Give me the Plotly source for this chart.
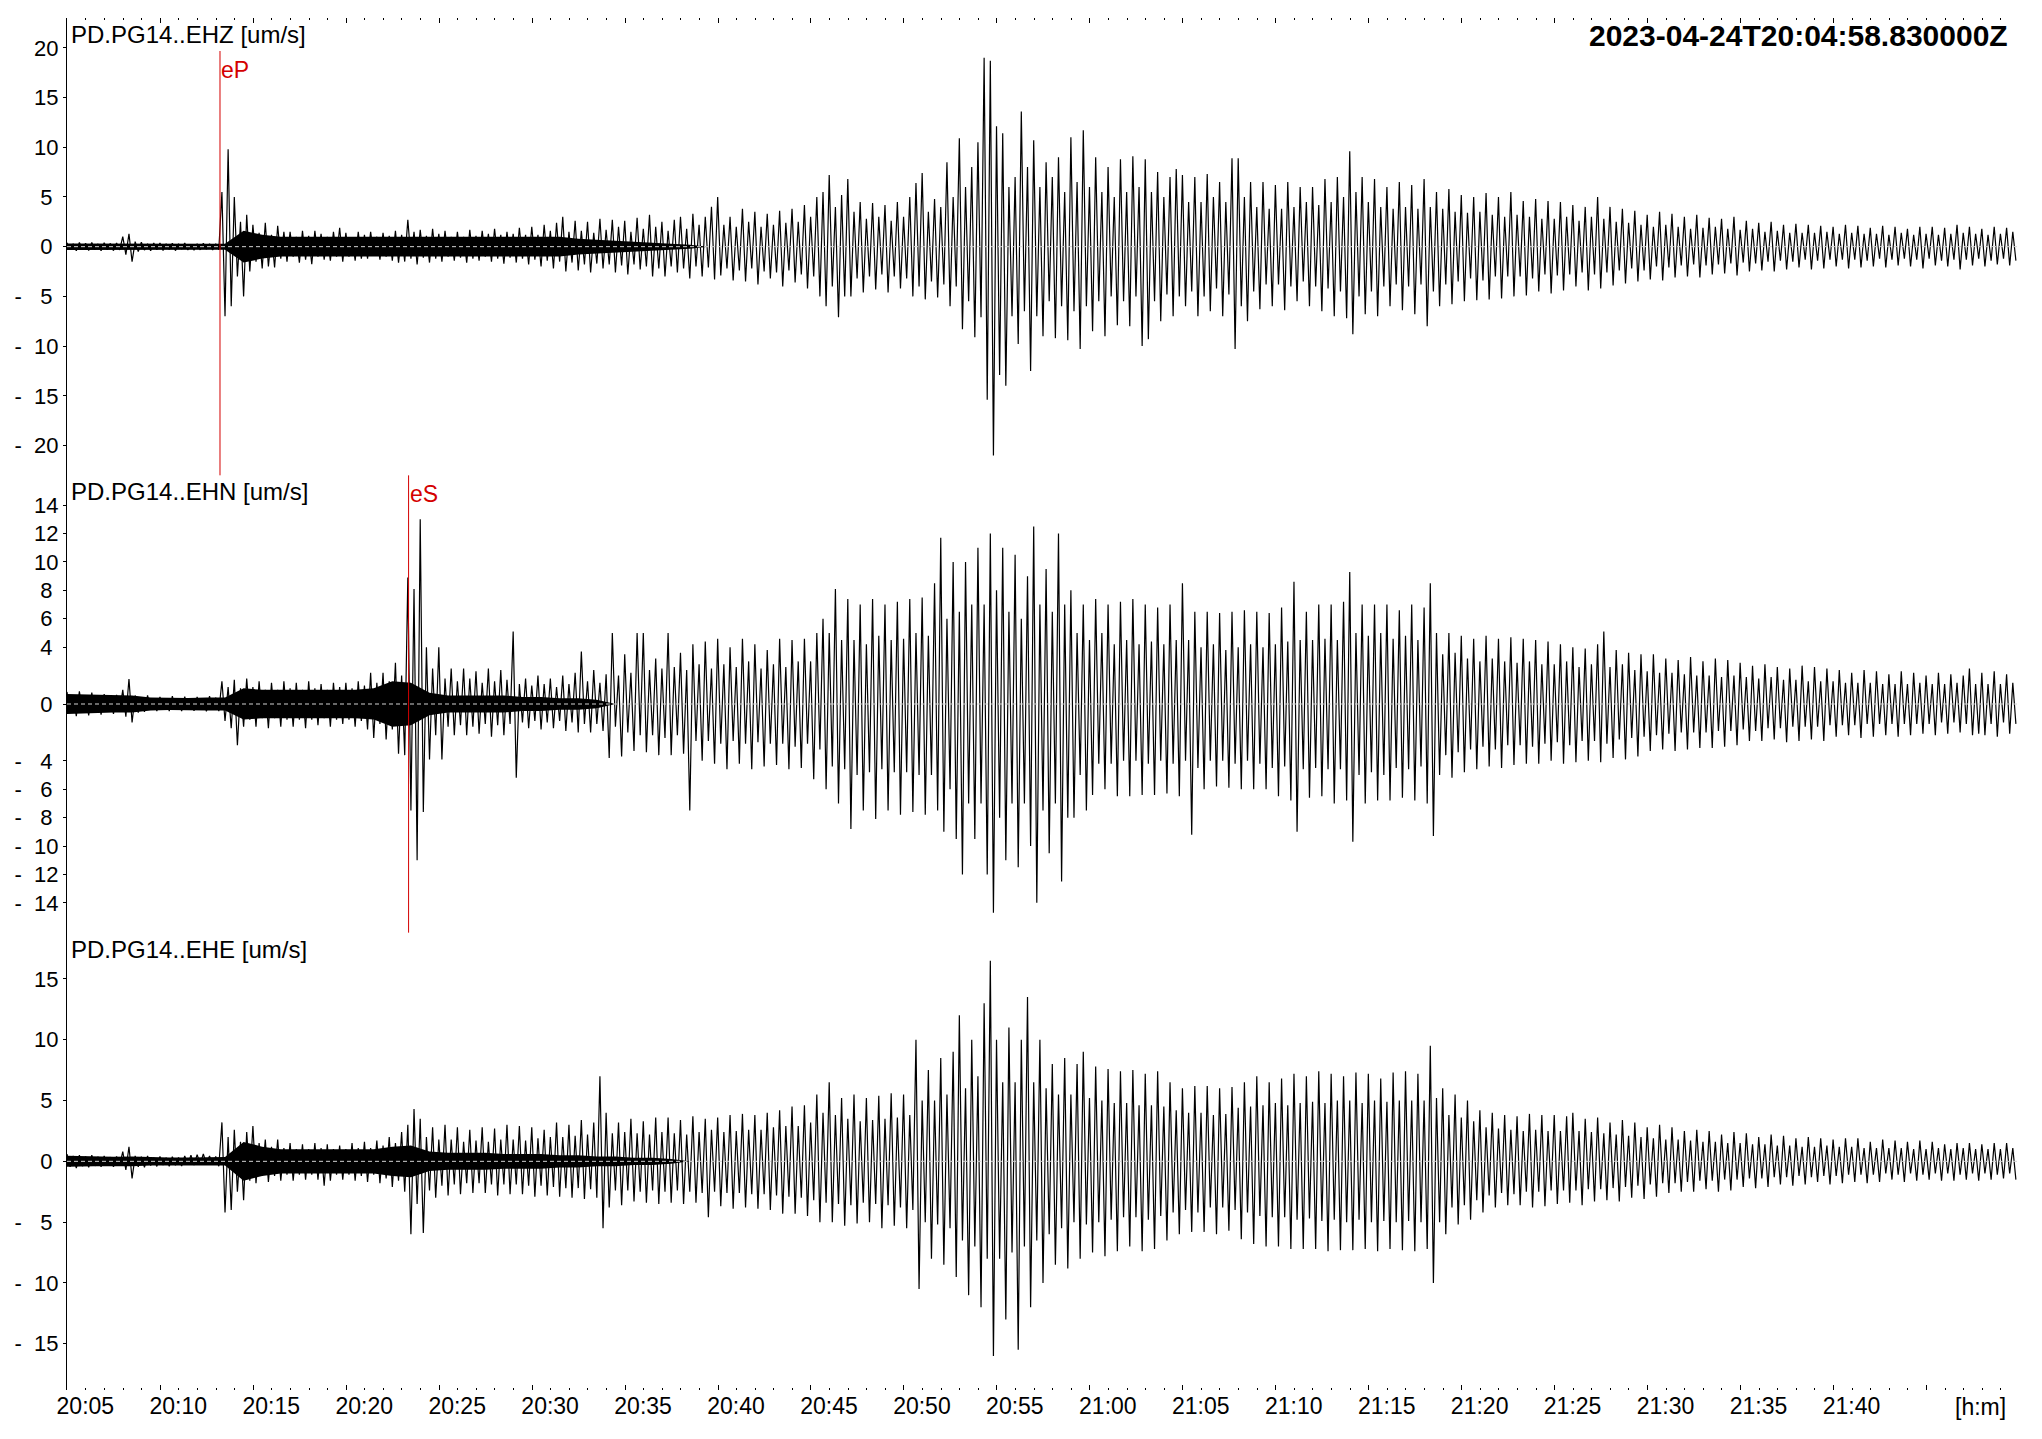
import plotly.graph_objects as go
from plotly.subplots import make_subplots
from datetime import datetime, timedelta

# ---------------- data ----------------
START = datetime(2023, 4, 24, 20, 4, 58, 830000)
DURATION_S = 6300          # shown time window
BIN_S = 20                 # one upper + one lower peak per bin
BAND_S = 60                # resolution of the dense-noise core band
TITLE_TIME = "2023-04-24T20:04:58.830000Z"
CHANNELS = ["PD.PG14..EHZ [um/s]", "PD.PG14..EHN [um/s]", "PD.PG14..EHE [um/s]"]

EHZ_UP = [
    .40, .30, .42, .35, .42, .28, .40, .33, .38, 1.0, 1.3, .50, .45, .30, .38,
    .36, .28, .35, .30, .36, .25, .28, .34, .30, .30, 5.5, 9.8, 5.0, 2.5, 3.2,
    2.2, 1.4, 2.4, 1.2, 2.1, 1.5, 1.5, 1.0, 1.6, 1.1, 1.6, 1.3, 1.0, 1.5, 1.9,
    1.4, 0.9, 1.5, 1.2, 1.5, 1.0, 1.4, 1.1, 1.6, 1.2, 2.7, 1.5, 1.7, 1.1, 1.8,
    1.3, 1.6, 1.0, 1.5, 1.0, 1.7, 1.1, 1.6, 1.3, 1.8, 1.2, 1.5, 1.3, 1.9, 1.2,
    2.0, 1.2, 2.2, 1.6, 2.4, 3.0, 1.5, 2.6, 1.6, 2.5, 1.4, 2.8, 1.7, 2.7, 2.0,
    2.6, 1.5, 2.9, 1.8, 3.2, 2.0, 2.5, 1.6, 2.7, 3.0, 1.8, 3.3, 2.2, 3.0, 4.0,
    5.0, 2.2, 3.0, 2.0, 3.8, 2.5, 3.5, 2.0, 3.3, 2.2, 3.6, 2.4, 3.8, 2.5, 4.2,
    3.0, 5.0, 5.5, 7.2, 4.0, 5.2, 6.8, 3.5, 4.5, 2.8, 4.4, 3.0, 4.2, 2.6, 4.5,
    3.0, 5.0, 6.4, 7.4, 3.5, 4.8, 4.0, 8.5, 5.0, 10.9, 6.0, 8.0, 10.5, 19.0, 18.7,
    12.1, 11.4, 6.0, 7.0, 13.6, 8.0, 10.7, 6.0, 8.5, 7.0, 9.0, 5.5, 11.0, 6.5, 11.7,
    6.0, 9.0, 5.5, 8.0, 5.0, 8.8, 5.5, 9.1, 6.0, 8.8, 5.5, 7.5, 5.0, 7.0, 7.8,
    7.2, 4.5, 7.0, 4.5, 7.3, 5.0, 6.5, 4.5, 8.9, 8.9, 5.0, 6.5, 4.0, 6.5, 3.8,
    6.2, 3.8, 6.5, 4.0, 6.0, 4.5, 6.0, 4.2, 6.8, 4.5, 7.0, 5.0, 9.6, 5.5, 7.0,
    4.5, 6.8, 4.0, 6.0, 3.8, 6.5, 4.0, 6.2, 3.8, 6.8, 4.0, 5.5, 3.8, 5.8, 3.5,
    5.2, 3.4, 5.0, 3.5, 5.4, 3.2, 5.0, 3.0, 5.5, 3.2, 4.6, 3.0, 4.8, 2.8, 4.6,
    2.8, 4.5, 3.0, 4.2, 2.6, 4.0, 3.0, 5.0, 2.8, 4.0, 2.5, 3.8, 2.4, 3.6, 2.2,
    3.2, 2.0, 3.5, 2.2, 3.3, 2.0, 3.0, 1.8, 3.2, 1.9, 2.9, 2.0, 2.8, 1.8, 3.0,
    1.7, 2.6, 1.8, 2.4, 1.5, 2.5, 1.6, 2.2, 1.4, 2.3, 1.4, 2.2, 1.4, 2.1, 1.5,
    2.0, 1.3, 2.2, 1.4, 2.1, 1.3, 1.9, 1.3, 2.1, 1.2, 2.0, 1.4, 1.8, 1.2, 2.0,
    1.3, 2.0, 1.2, 1.9, 1.3, 2.2, 1.4, 2.0, 1.3, 1.8, 1.2, 2.0, 1.3, 1.9, 1.5,
]
EHZ_LO = [
    -.32, -.42, -.30, -.40, -.28, -.42, -.30, -.40, -.33, -.80, -1.5, -.50, -.35, -.42, -.30,
    -.38, -.28, -.40, -.26, -.33, -.36, -.32, -.25, -.34, -.30, -7.0, -6.0, -3.0, -5.0, -2.5,
    -1.5, -2.2, -2.0, -2.1, -1.2, -1.5, -1.0, -1.6, -1.3, -1.75, -1.0, -1.3, -1.4, -1.0, -1.5,
    -1.0, -1.4, -1.2, -1.2, -0.9, -1.3, -1.0, -1.4, -1.6, -1.5, -1.2, -1.8, -1.1, -1.6, -1.2,
    -1.5, -1.0, -1.4, -1.1, -1.6, -1.2, -1.4, -1.0, -1.5, -1.2, -1.7, -1.1, -1.6, -1.2, -1.8,
    -1.3, -2.0, -1.4, -2.2, -1.5, -2.5, -1.6, -2.4, -1.8, -2.6, -1.7, -2.2, -1.8, -2.6, -1.9,
    -2.8, -1.8, -2.3, -2.0, -3.0, -2.2, -3.0, -2.0, -2.6, -2.2, -3.2, -2.0, -3.0, -2.1, -3.3,
    -2.9, -2.2, -3.4, -2.4, -3.5, -2.2, -3.8, -2.5, -3.2, -2.6, -4.0, -2.4, -3.6, -2.8, -4.2,
    -3.0, -5.0, -6.0, -4.0, -7.1, -5.0, -5.0, -3.2, -4.6, -3.0, -4.3, -2.8, -4.6, -3.0, -4.2,
    -3.2, -5.0, -4.0, -5.3, -3.5, -5.1, -3.8, -6.0, -4.0, -8.3, -5.5, -9.1, -7.1, -15.4, -21.0,
    -12.9, -14.0, -7.0, -9.8, -6.5, -12.5, -7.0, -9.0, -5.5, -9.2, -6.0, -9.4, -6.5, -10.3, -6.0,
    -8.5, -5.5, -9.0, -5.0, -7.9, -5.5, -8.0, -5.0, -10.0, -9.3, -5.5, -7.5, -4.8, -7.0, -5.0,
    -6.0, -4.5, -7.0, -5.0, -6.5, -4.2, -7.0, -4.8, -10.3, -6.0, -7.5, -4.5, -6.3, -3.8, -6.0,
    -3.8, -6.4, -4.0, -5.5, -3.5, -6.0, -4.0, -6.5, -4.2, -7.0, -4.5, -7.2, -8.8, -5.0, -6.8,
    -4.5, -7.0, -4.0, -6.0, -3.8, -6.4, -4.0, -6.8, -3.8, -8.0, -4.5, -6.0, -3.8, -5.8, -3.5,
    -5.5, -3.2, -5.4, -3.4, -5.3, -3.0, -5.2, -3.0, -5.0, -3.0, -4.9, -3.2, -4.5, -2.8, -4.7,
    -2.9, -4.4, -2.8, -4.0, -2.6, -4.4, -2.8, -4.2, -2.6, -3.9, -2.4, -3.7, -2.2, -3.5, -2.4,
    -3.3, -2.0, -3.4, -2.1, -3.1, -1.9, -3.0, -1.8, -3.1, -1.9, -2.8, -1.8, -2.7, -1.7, -2.9,
    -1.6, -2.5, -1.7, -2.4, -1.5, -2.5, -1.4, -2.3, -1.5, -2.1, -1.3, -2.3, -1.4, -2.2, -1.3,
    -2.0, -1.3, -2.2, -1.3, -2.1, -1.4, -2.0, -1.2, -2.1, -1.3, -1.9, -1.2, -2.0, -1.3, -2.2,
    -1.2, -1.9, -1.4, -2.0, -1.3, -2.3, -1.3, -1.9, -1.2, -2.0, -1.4, -1.8, -1.2, -1.9, -1.4,
]
EHN_UP = [
    .85, .60, .90, .62, .80, .55, .70, .50, .65, 1.0, 1.76, .60, .45, .60, .40,
    .50, .38, .55, .40, .52, .38, .50, .40, .55, .45, 1.6, 1.2, 1.7, 1.1, 1.8,
    1.2, 1.6, 1.0, 1.5, 1.0, 1.6, 1.1, 1.5, 1.0, 1.6, 1.1, 1.4, 1.0, 1.5, 1.2,
    1.5, 1.1, 1.6, 1.3, 2.2, 1.5, 2.2, 1.6, 2.9, 2.0, 8.9, 8.1, 13.0, 4.0, 2.5,
    4.0, 1.8, 2.5, 1.6, 2.5, 1.8, 2.3, 1.5, 2.5, 1.6, 2.4, 1.7, 5.1, 1.4, 1.8,
    1.3, 2.0, 1.4, 1.8, 1.2, 2.0, 1.4, 2.2, 3.7, 1.6, 2.4, 1.5, 2.1, 5.0, 2.0,
    3.5, 2.2, 5.0, 5.0, 2.4, 3.2, 2.5, 5.0, 2.6, 3.6, 2.4, 4.2, 2.8, 4.4, 2.5,
    4.6, 2.8, 4.0, 2.6, 4.6, 3.0, 4.2, 2.5, 3.8, 2.8, 4.6, 2.6, 4.5, 3.0, 4.6,
    3.0, 5.0, 6.0, 5.0, 8.1, 4.5, 7.4, 4.5, 7.0, 4.2, 7.4, 4.8, 7.0, 4.5, 7.2,
    4.6, 7.4, 5.0, 7.5, 4.8, 8.5, 11.7, 6.0, 10.0, 6.5, 10.0, 7.0, 11.0, 7.0, 12.0,
    8.0, 11.0, 6.5, 10.5, 6.0, 9.0, 12.5, 7.0, 9.5, 6.5, 12.0, 7.0, 8.0, 5.0, 7.0,
    4.5, 7.4, 5.0, 7.0, 4.2, 7.2, 4.5, 7.4, 4.2, 7.0, 4.4, 6.8, 4.2, 7.0, 4.5,
    8.5, 4.5, 6.5, 4.0, 6.5, 4.2, 6.4, 3.8, 6.5, 4.0, 6.6, 4.2, 6.5, 4.0, 6.4,
    4.2, 6.8, 4.4, 8.6, 4.5, 6.5, 4.5, 7.0, 4.6, 7.0, 4.5, 7.2, 9.3, 5.0, 7.0,
    4.8, 7.0, 5.0, 7.0, 4.6, 6.6, 4.8, 7.0, 4.5, 6.8, 8.5, 5.0, 3.5, 5.0, 3.6,
    4.8, 3.2, 4.6, 3.0, 4.8, 3.2, 4.6, 3.0, 4.7, 2.9, 4.6, 3.0, 4.5, 2.8, 4.4,
    2.8, 4.2, 3.0, 4.0, 2.6, 3.9, 2.8, 4.2, 5.1, 2.6, 3.8, 2.8, 3.6, 2.4, 3.5,
    2.3, 3.5, 2.2, 3.2, 2.2, 3.1, 2.1, 3.3, 2.0, 3.0, 2.0, 3.2, 1.9, 3.1, 2.0,
    2.9, 1.9, 2.7, 1.8, 2.8, 1.9, 2.6, 1.7, 2.5, 1.7, 2.7, 1.6, 2.6, 1.6, 2.5,
    1.6, 2.4, 1.5, 2.2, 1.5, 2.4, 1.5, 2.3, 1.4, 2.1, 1.4, 2.3, 1.4, 2.2, 1.5,
    2.0, 1.4, 2.2, 1.4, 2.1, 1.5, 2.0, 2.5, 1.4, 2.2, 1.4, 2.3, 1.4, 2.1, 1.5,
]
EHN_LO = [
    -.60, -.85, -.62, -.80, -.55, -.75, -.50, -.70, -.48, -.90, -1.3, -.60, -.55, -.40, -.50,
    -.38, -.50, -.40, -.50, -.36, -.48, -.38, -.52, -.40, -.50, -1.2, -1.7, -2.9, -1.6, -1.1,
    -1.6, -1.0, -1.7, -1.0, -1.6, -1.1, -1.6, -1.1, -1.7, -1.1, -1.5, -1.0, -1.6, -1.1, -1.4,
    -1.1, -1.6, -1.2, -1.8, -2.4, -1.4, -2.5, -1.8, -3.5, -3.6, -7.5, -11.0, -7.6, -3.9, -2.2,
    -3.9, -1.6, -2.2, -1.5, -2.2, -1.6, -2.1, -1.4, -2.3, -1.5, -2.2, -1.4, -5.2, -1.3, -1.7,
    -1.2, -1.8, -1.3, -1.7, -1.2, -1.9, -1.3, -2.0, -1.4, -2.0, -1.4, -1.9, -3.8, -1.6, -3.7,
    -2.0, -3.3, -2.2, -3.4, -2.2, -3.6, -2.4, -3.6, -2.2, -3.5, -7.5, -2.6, -4.0, -2.6, -4.2,
    -2.8, -4.6, -2.6, -4.2, -2.8, -4.6, -2.7, -4.4, -2.8, -4.3, -2.8, -4.6, -3.0, -4.5, -2.8,
    -5.3, -3.2, -6.0, -4.4, -7.0, -4.6, -8.8, -5.0, -7.5, -4.8, -8.1, -4.6, -7.5, -4.8, -7.8,
    -4.8, -7.6, -5.0, -7.8, -5.0, -7.5, -9.0, -6.0, -9.5, -12.0, -7.0, -9.5, -7.0, -12.0, -14.7,
    -8.0, -11.0, -7.0, -11.5, -7.0, -10.0, -14.0, -7.5, -10.5, -7.0, -12.5, -8.0, -8.0, -5.0, -7.5,
    -6.4, -4.2, -6.0, -4.2, -6.5, -4.0, -6.5, -4.0, -6.4, -4.2, -6.4, -4.0, -6.3, -4.2, -6.5,
    -4.0, -9.2, -4.5, -6.0, -4.0, -5.8, -4.0, -5.9, -4.2, -6.0, -4.0, -6.0, -4.2, -6.0, -4.5,
    -6.5, -4.4, -6.8, -9.0, -4.6, -6.6, -4.5, -6.5, -4.6, -7.0, -4.6, -6.8, -9.7, -5.0, -7.0,
    -4.8, -6.8, -5.0, -6.8, -4.5, -6.6, -4.6, -6.8, -4.4, -7.0, -9.3, -5.0, -3.6, -5.2, -3.4,
    -4.8, -3.2, -4.6, -3.0, -4.4, -3.2, -4.5, -2.9, -4.3, -2.9, -4.2, -3.0, -4.2, -2.8, -4.0,
    -2.7, -4.2, -2.9, -4.1, -2.6, -4.0, -2.6, -4.1, -2.8, -3.8, -2.5, -3.9, -2.4, -3.7, -2.3,
    -3.3, -2.2, -3.2, -2.1, -3.3, -2.0, -3.2, -2.0, -3.1, -2.0, -3.1, -1.9, -3.0, -1.9, -2.9,
    -1.8, -2.6, -1.9, -2.6, -1.7, -2.5, -1.7, -2.7, -1.6, -2.6, -1.6, -2.5, -1.6, -2.6, -1.5,
    -2.3, -1.5, -2.2, -1.5, -2.4, -1.4, -2.3, -1.4, -2.2, -1.4, -2.3, -1.4, -2.2, -1.4, -2.1,
    -1.4, -2.2, -1.3, -2.1, -1.3, -2.0, -1.4, -2.2, -2.1, -2.2, -1.4, -2.3, -1.3, -2.1, -1.4,
]
EHE_UP = [
    .60, .45, .50, .40, .50, .38, .45, .35, .40, .80, 1.2, .45, .38, .45, .30,
    .40, .30, .38, .32, .45, .50, .55, .60, .45, .40, 3.2, 2.0, 2.6, 1.6, 2.4,
    2.9, 1.5, 1.8, 1.2, 1.8, 1.1, 1.5, 1.0, 1.4, 1.0, 1.5, 1.1, 1.4, 1.0, 1.3,
    1.0, 1.5, 1.1, 1.6, 1.1, 1.7, 1.3, 2.0, 1.5, 2.4, 3.0, 4.3, 3.5, 2.0, 2.8,
    1.8, 3.0, 1.8, 2.8, 1.6, 2.6, 1.7, 2.8, 1.6, 2.7, 1.8, 3.0, 1.8, 2.9, 1.7,
    2.8, 1.9, 2.6, 2.0, 3.2, 2.0, 3.0, 2.1, 3.4, 2.2, 3.2, 7.0, 4.0, 2.3, 3.2,
    2.4, 3.5, 2.3, 3.3, 2.2, 3.6, 2.4, 3.6, 2.3, 3.4, 2.2, 3.7, 2.4, 3.5, 2.6,
    3.6, 2.4, 3.8, 2.5, 3.9, 2.6, 3.8, 2.6, 4.0, 2.8, 4.2, 2.9, 4.5, 2.9, 4.6,
    3.2, 5.5, 4.0, 6.5, 3.8, 5.2, 3.5, 5.5, 3.3, 5.2, 3.4, 5.4, 3.5, 5.6, 3.6,
    5.5, 3.8, 10.0, 5.0, 7.5, 5.0, 8.5, 5.5, 9.0, 12.0, 6.0, 10.0, 7.0, 13.0, 16.5,
    10.0, 6.5, 11.0, 6.5, 10.0, 13.5, 6.5, 10.0, 6.0, 8.0, 5.5, 8.5, 5.5, 8.0, 9.0,
    5.2, 7.8, 5.0, 7.6, 4.8, 7.4, 4.8, 7.5, 4.6, 7.2, 4.6, 7.4, 4.5, 6.5, 4.2,
    6.0, 4.0, 6.2, 4.0, 6.2, 3.8, 6.0, 3.9, 6.1, 4.4, 6.5, 4.5, 7.0, 4.6, 6.5,
    4.8, 6.8, 4.6, 7.2, 4.8, 7.0, 4.9, 7.4, 4.8, 7.2, 5.0, 7.0, 5.0, 7.3, 4.8,
    7.2, 5.0, 6.8, 4.9, 7.3, 5.0, 7.4, 5.0, 7.2, 5.0, 9.5, 5.2, 6.0, 3.8, 5.5,
    3.6, 5.0, 3.3, 4.2, 2.8, 4.0, 2.7, 3.8, 2.6, 3.7, 2.5, 3.9, 2.6, 3.8, 2.5,
    3.8, 2.5, 3.7, 4.0, 2.5, 3.5, 2.4, 3.6, 2.3, 3.2, 2.2, 3.4, 2.1, 3.2, 2.0,
    2.8, 1.9, 3.0, 1.8, 2.8, 1.8, 2.5, 1.7, 2.6, 1.6, 2.5, 1.6, 2.2, 1.5, 2.4,
    1.5, 2.3, 1.4, 2.0, 1.4, 2.2, 1.3, 2.1, 1.3, 1.9, 1.2, 2.0, 1.2, 1.9, 1.3,
    1.8, 1.2, 1.9, 1.2, 1.9, 1.1, 1.6, 1.1, 1.8, 1.1, 1.7, 1.1, 1.6, 1.0, 1.7,
    1.0, 1.6, 1.1, 1.4, 1.0, 1.5, 1.1, 1.5, 1.0, 1.4, 1.0, 1.5, 1.0, 1.5, 1.1,
]
EHE_LO = [
    -.45, -.55, -.40, -.50, -.38, -.45, -.35, -.45, -.32, -.70, -1.4, -.45, -.50, -.35, -.42,
    -.30, -.40, -.32, -.38, -.28, -.30, -.22, -.20, -.28, -.40, -4.2, -4.0, -2.5, -3.2, -1.6,
    -1.8, -1.2, -1.7, -1.2, -1.6, -1.1, -1.6, -1.1, -1.5, -1.1, -1.5, -2.0, -1.6, -1.1, -1.5,
    -1.1, -1.6, -1.2, -1.7, -1.1, -1.8, -1.4, -2.1, -1.6, -2.5, -6.0, -3.5, -5.9, -2.4, -3.0,
    -2.0, -2.8, -1.9, -2.7, -1.8, -2.6, -1.8, -2.6, -1.9, -2.8, -1.9, -2.7, -1.9, -2.7, -2.0,
    -2.9, -2.0, -2.8, -2.1, -2.9, -2.2, -3.0, -2.2, -3.1, -2.3, -3.0, -5.5, -3.8, -2.4, -3.6,
    -2.4, -3.3, -2.5, -3.4, -2.4, -3.5, -2.5, -3.4, -2.4, -3.5, -2.5, -3.4, -2.6, -4.6, -2.5,
    -3.7, -2.6, -3.9, -2.6, -3.8, -2.7, -3.9, -2.7, -4.0, -2.8, -4.3, -2.9, -4.3, -3.0, -4.5,
    -3.2, -5.0, -3.4, -5.0, -3.5, -5.3, -3.6, -5.1, -3.4, -5.0, -3.5, -5.5, -3.6, -5.3, -3.8,
    -5.5, -4.0, -10.5, -5.0, -8.0, -5.2, -8.5, -5.5, -9.5, -6.5, -11.0, -7.0, -12.0, -8.0, -16.0,
    -8.0, -13.0, -7.5, -15.5, -7.0, -12.0, -6.5, -10.0, -6.0, -8.5, -5.5, -8.8, -5.0, -8.0, -5.2,
    -7.5, -5.0, -7.8, -4.8, -7.4, -4.6, -7.0, -4.6, -7.4, -4.8, -7.2, -4.5, -6.5, -4.2, -6.0,
    -4.0, -5.8, -4.2, -5.8, -3.8, -6.0, -3.8, -5.7, -4.0, -6.4, -4.2, -6.8, -4.5, -7.0, -4.6,
    -7.0, -4.6, -7.2, -4.8, -7.2, -4.7, -7.2, -4.9, -7.4, -4.8, -7.3, -5.0, -7.3, -4.8, -7.2,
    -5.0, -7.4, -4.9, -7.2, -5.0, -7.3, -4.9, -7.4, -5.0, -7.2, -10.0, -5.0, -6.0, -3.8, -5.2,
    -3.6, -4.8, -3.2, -4.2, -2.8, -3.8, -2.6, -3.6, -2.7, -3.6, -2.5, -3.8, -2.5, -3.7, -2.4,
    -3.5, -2.4, -3.4, -2.4, -3.6, -2.3, -3.3, -2.3, -3.2, -2.2, -3.3, -2.1, -3.0, -2.0, -3.1,
    -1.9, -2.9, -1.8, -2.6, -1.8, -2.5, -1.7, -2.5, -1.6, -2.3, -1.6, -2.5, -1.5, -2.4, -1.5,
    -2.1, -1.4, -2.2, -1.4, -2.1, -1.3, -1.9, -1.3, -2.0, -1.2, -1.9, -1.3, -1.7, -1.2, -1.9,
    -1.2, -1.8, -1.1, -1.7, -1.1, -1.8, -1.1, -1.7, -1.0, -1.5, -1.1, -1.7, -1.0, -1.6, -1.1,
    -1.5, -1.0, -1.6, -1.0, -1.6, -1.1, -1.5, -1.0, -1.6, -1.0, -1.5, -1.1, -1.4, -1.0, -1.5,
]
# half-width of the solid black high-frequency noise core, one value per minute
EHZ_BAND = [
    .33, .33, .33, .33, .33, .32, .30, .30, .30, 1.6,
    1.2, 1.0, 1.0, 1.0, 1.0, 1.0, 1.0, 1.0, 1.0, 1.0,
    1.0, 1.0, 1.0, 1.0, 1.0, 1.0, 1.0, .80, .70, .60,
    .50, .40, .30, .20, 0, 0, 0, 0, 0, 0,
    0, 0, 0, 0, 0, 0, 0, 0, 0, 0,
    0, 0, 0, 0, 0, 0, 0, 0, 0, 0,
    0, 0, 0, 0, 0, 0, 0, 0, 0, 0,
    0, 0, 0, 0, 0, 0, 0, 0, 0, 0,
    0, 0, 0, 0, 0, 0, 0, 0, 0, 0,
    0, 0, 0, 0, 0, 0, 0, 0, 0, 0,
    0, 0, 0, 0, 0,
]
EHN_BAND = [
    .70, .65, .60, .60, .45, .42, .42, .45, .45, 1.1,
    1.0, 1.0, 1.0, 1.0, 1.0, 1.0, 1.1, 1.6, 1.5, .80,
    .60, .60, .60, .60, .50, .50, .40, .40, .30, 0,
    0, 0, 0, 0, 0, 0, 0, 0, 0, 0,
    0, 0, 0, 0, 0, 0, 0, 0, 0, 0,
    0, 0, 0, 0, 0, 0, 0, 0, 0, 0,
    0, 0, 0, 0, 0, 0, 0, 0, 0, 0,
    0, 0, 0, 0, 0, 0, 0, 0, 0, 0,
    0, 0, 0, 0, 0, 0, 0, 0, 0, 0,
    0, 0, 0, 0, 0, 0, 0, 0, 0, 0,
    0, 0, 0, 0, 0,
]
EHE_BAND = [
    .45, .40, .38, .40, .35, .32, .32, .35, .35, 1.6,
    1.2, 1.0, 1.0, 1.0, 1.0, 1.0, 1.0, 1.2, 1.3, .80,
    .70, .70, .70, .60, .60, .60, .50, .50, .40, .40,
    .30, .30, .20, 0, 0, 0, 0, 0, 0, 0,
    0, 0, 0, 0, 0, 0, 0, 0, 0, 0,
    0, 0, 0, 0, 0, 0, 0, 0, 0, 0,
    0, 0, 0, 0, 0, 0, 0, 0, 0, 0,
    0, 0, 0, 0, 0, 0, 0, 0, 0, 0,
    0, 0, 0, 0, 0, 0, 0, 0, 0, 0,
    0, 0, 0, 0, 0, 0, 0, 0, 0, 0,
    0, 0, 0, 0, 0,
]

Y_HALF_RANGE = [23.0, 16.1, 18.8]
Y_TICKS = [
    [-20, -15, -10, -5, 0, 5, 10, 15, 20],
    [-14, -12, -10, -8, -6, -4, 0, 4, 6, 8, 10, 12, 14],
    [-15, -10, -5, 0, 5, 10, 15],
]
# phase picks: (label, time, panel row)
PICKS = [
    ("eP", datetime(2023, 4, 24, 20, 13, 12, 600000), 1),
    ("eS", datetime(2023, 4, 24, 20, 23, 21, 300000), 2),
]
X_TICK_FIRST = datetime(2023, 4, 24, 20, 5)
X_TICK_STEP_MIN = 5
X_TICK_COUNT = 22           # 20:05 ... 21:50
X_UNLABELLED = ["21:45", "21:50"]
X_UNIT = "[h:m]"

# ---------------- layout constants (pixels) ----------------
W, H = 2042, 1439
ML, MR, MT, MB = 67, 23, 18, 49
PLOT_W = W - ML - MR
PLOT_H = H - MT - MB


def py(px):
    """pixel row -> paper y"""
    return (H - MB - px) / PLOT_H


def pxx(px):
    """pixel column -> paper x"""
    return (px - ML) / PLOT_W


FONT = "Arial, 'Liberation Sans', sans-serif"
FS, PS = "\u2007", "\u2008"


def ylab(v):
    s = str(abs(v))
    if len(s) == 1:
        s = PS + s + PS
    return ("-" + FS if v < 0 else "") + s


fig = make_subplots(rows=3, cols=1, shared_xaxes=True, vertical_spacing=0)

series = [(EHZ_UP, EHZ_LO, EHZ_BAND), (EHN_UP, EHN_LO, EHN_BAND), (EHE_UP, EHE_LO, EHE_BAND)]
for r, (up, lo, band) in enumerate(series, start=1):
    # dense noise core (filled band), only where the record is solid black
    last = max(k for k, b in enumerate(band) if b > 0) + 2
    bsub = band[:last]
    bt = [START + timedelta(seconds=k * BAND_S + BAND_S / 2) for k in range(len(bsub))]
    bt[0] = START
    fig.add_trace(go.Scatter(x=bt + bt[::-1], y=list(bsub) + [-b for b in bsub[::-1]],
                             mode="lines", fill="toself", fillcolor="black",
                             line=dict(width=0, color="black"),
                             hoverinfo="skip", showlegend=False), row=r, col=1)
    # peak-to-peak trace
    xs, ys = [], []
    n = min(len(up), len(lo))
    for i in range(n):
        t0 = START + timedelta(seconds=i * BIN_S)
        xs.append(t0)
        ys.append(up[i])
        xs.append(t0 + timedelta(seconds=BIN_S / 2))
        ys.append(lo[i])
    fig.add_trace(go.Scatter(x=xs, y=ys, mode="lines",
                             line=dict(color="black", width=1.2),
                             hoverinfo="skip", showlegend=False), row=r, col=1)

x_end = START + timedelta(seconds=DURATION_S)
tickvals = [X_TICK_FIRST + timedelta(minutes=X_TICK_STEP_MIN * k) for k in range(X_TICK_COUNT)]
ticktext = ["" if t.strftime("%H:%M") in X_UNLABELLED else t.strftime("%H:%M") for t in tickvals]

for r in (1, 2, 3):
    fig.update_xaxes(row=r, col=1, range=[START, x_end], showgrid=False, zeroline=False,
                     showline=False, tickmode="array", tickvals=tickvals, ticktext=ticktext,
                     automargin=False)
fig.update_xaxes(row=1, col=1, side="top", ticks="inside", ticklen=5, tickcolor="black",
                 showticklabels=False,
                 minor=dict(ticks="inside", ticklen=2, dtick=60000, tick0=X_TICK_FIRST,
                            tickcolor="black", showgrid=False))
fig.update_xaxes(row=2, col=1, ticks="", showticklabels=False)
fig.update_xaxes(row=3, col=1, ticks="inside", ticklen=5, tickcolor="black",
                 showticklabels=True, ticklabelshift=18,
                 tickfont=dict(family=FONT, size=23, color="black"),
                 minor=dict(ticks="inside", ticklen=2, dtick=60000, tick0=X_TICK_FIRST,
                            tickcolor="black", showgrid=False))

for r in (1, 2, 3):
    h = Y_HALF_RANGE[r - 1]
    fig.update_yaxes(row=r, col=1, range=[-h, h], showgrid=False, zeroline=False,
                     showline=True, linecolor="black", linewidth=1,
                     ticks="outside", ticklen=3, tickcolor="black",
                     tickmode="array", tickvals=Y_TICKS[r - 1],
                     ticktext=[ylab(v) for v in Y_TICKS[r - 1]],
                     tickfont=dict(family=FONT, size=22, color="black"),
                     automargin=False)

# dashed zero lines
for r in (1, 2, 3):
    yref = "y" if r == 1 else f"y{r}"
    fig.add_shape(type="line", xref="paper", x0=0, x1=1, yref=yref, y0=0, y1=0,
                  line=dict(color="#d2d2d2", width=1, dash="4px,3px"), layer="above")

# panel boundaries in pixels
panel_top = [MT + PLOT_H * k / 3 for k in range(3)]
panel_bot = [MT + PLOT_H * (k + 1) / 3 for k in range(3)]

# channel labels
for k, name in enumerate(CHANNELS):
    fig.add_annotation(text=name, xref="paper", yref="paper", x=pxx(69), y=py(panel_top[k] + 1),
                       xanchor="left", yanchor="top", showarrow=False,
                       font=dict(family=FONT, size=24, color="black"))

# phase picks
RED = "#d40000"
for label, t, row in PICKS:
    top_px = 51 if row == 1 else panel_top[row - 1]
    fig.add_shape(type="line", xref="x", x0=t, x1=t, yref="paper",
                  y0=py(panel_bot[row - 1]), y1=py(top_px), line=dict(color=RED, width=1))
    fig.add_annotation(text=label, xref="x", yref="paper", x=t, y=py(top_px + 4),
                       xanchor="left", yanchor="top", xshift=-1, showarrow=False,
                       font=dict(family=FONT, size=23, color=RED))

# start time stamp
fig.add_annotation(text="<b>" + TITLE_TIME + "</b>", xref="paper", yref="paper",
                   x=pxx(2010), y=py(17), xanchor="right", yanchor="top", showarrow=False,
                   font=dict(family=FONT, size=30, color="black"))
# x unit label
fig.add_annotation(text=X_UNIT, xref="paper", yref="paper", x=pxx(1980), y=py(1392),
                   xanchor="center", yanchor="top", showarrow=False,
                   font=dict(family=FONT, size=23, color="black"))

fig.update_layout(width=W, height=H, margin=dict(l=ML, r=MR, t=MT, b=MB, autoexpand=False),
                  plot_bgcolor="white", paper_bgcolor="white", hovermode=False,
                  showlegend=False, font=dict(family=FONT, color="black"))

fig.write_html("out.html", config={"displayModeBar": False, "staticPlot": True},
               post_script="document.documentElement.style.margin='0';"
                           "document.body.style.margin='0';"
                           "document.body.style.overflow='hidden';")
